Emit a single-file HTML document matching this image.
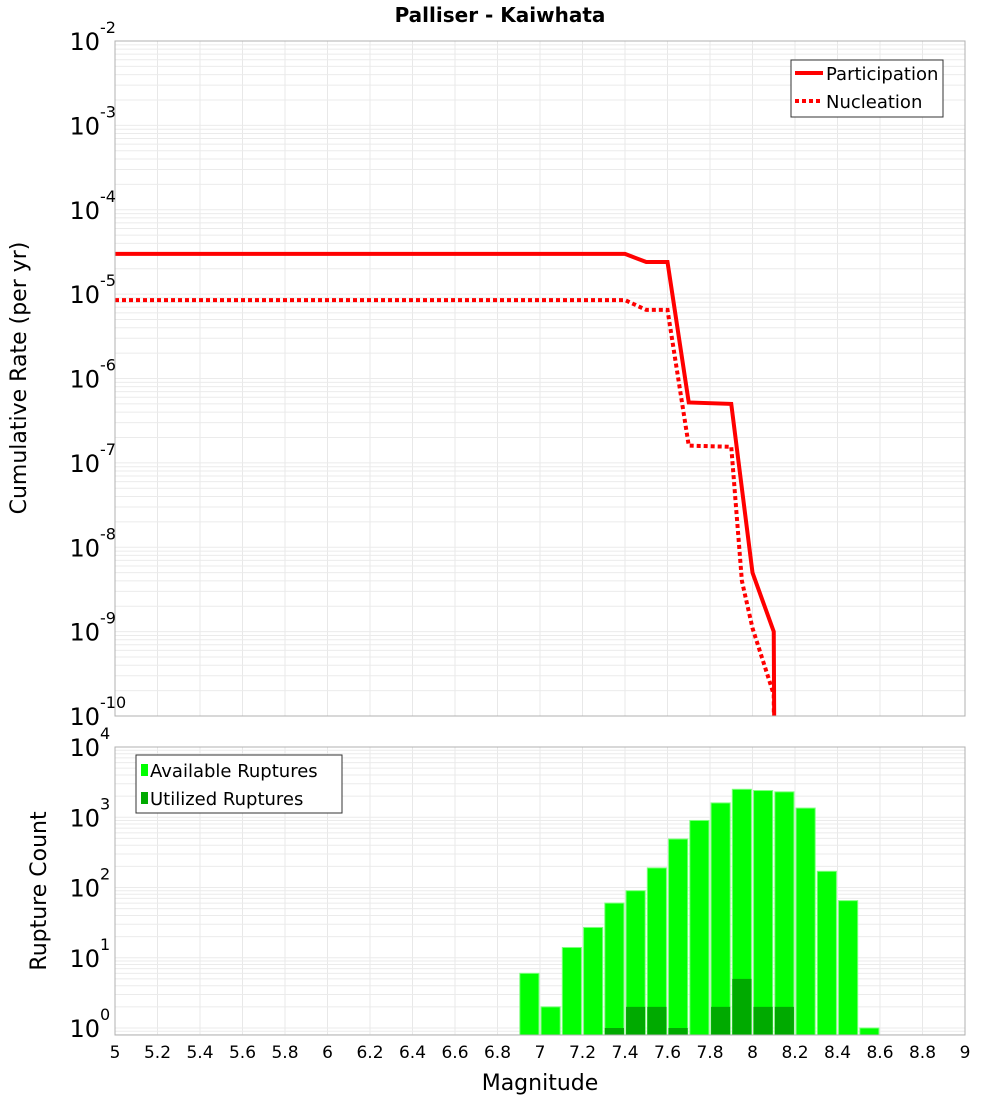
<!DOCTYPE html>
<html><head><meta charset="utf-8"><style>
body{margin:0;background:#fff}
svg{font-family:"DejaVu Sans","Liberation Sans",sans-serif}
</style></head><body>
<svg id="c" width="1000" height="1100" viewBox="0 0 1000 1100" xmlns="http://www.w3.org/2000/svg">
<text x="500" y="22" text-anchor="middle" font-size="20" font-weight="bold">Palliser - Kaiwhata</text>
<g id="grid"></g>
<g id="marks"></g>
<rect x="115" y="41" width="850" height="675" fill="none" stroke="#b0b0b0"/>
<rect x="115" y="747" width="850" height="288" fill="none" stroke="#b0b0b0"/>
<g id="labels"></g>
<text transform="translate(26,378) rotate(-90)" text-anchor="middle" font-size="22">Cumulative Rate (per yr)</text>
<text transform="translate(46,891) rotate(-90)" text-anchor="middle" font-size="22">Rupture Count</text>
<text x="540" y="1090" text-anchor="middle" font-size="22">Magnitude</text>
<g>
<rect x="791" y="60" width="152" height="57" fill="#fff" stroke="#333"/>
<line x1="795" y1="73" x2="823" y2="73" stroke="red" stroke-width="4"/>
<text x="826" y="80" font-size="18">Participation</text>
<line x1="795" y1="101" x2="823" y2="101" stroke="red" stroke-width="4" stroke-dasharray="4,3"/>
<text x="826" y="108" font-size="18">Nucleation</text>
</g>
<g>
<rect x="136" y="755" width="206" height="58" fill="#fff" stroke="#333"/>
<rect x="141" y="764" width="7" height="12" fill="#00ff00"/>
<text x="150" y="777" font-size="18">Available Ruptures</text>
<rect x="141" y="792" width="7" height="12" fill="#00aa00"/>
<text x="150" y="805" font-size="18">Utilized Ruptures</text>
</g>
</svg>
<script>
const partMags=[5,7.4,7.5,7.6,7.7,7.9,8.0,8.1,8.11];
const partRates=[3.0e-5,3.0e-5,2.4e-5,2.4e-5,5.2e-7,5.0e-7,5e-9,1e-9,1e-14];
const nuclMags=[5,7.4,7.5,7.6,7.7,7.9,7.95,8.0,8.1,8.11];
const nuclRates=[8.5e-6,8.5e-6,6.5e-6,6.5e-6,1.6e-7,1.55e-7,4e-9,1.1e-9,1.8e-10,1e-14];
const binMags=[6.95,7.05,7.15,7.25,7.35,7.45,7.55,7.65,7.75,7.85,7.95,8.05,8.15,8.25,8.35,8.45,8.55];
const availCounts=[6,2,14,27,60,90,190,490,900,1600,2500,2400,2300,1350,170,65,1];
const usedCounts=[0,0,0,0,1,2,2,1,0,2,5,2,2,0,0,0,0];
const xTicks=[5,5.2,5.4,5.6,5.8,6,6.2,6.4,6.6,6.8,7,7.2,7.4,7.6,7.8,8,8.2,8.4,8.6,8.8,9];
const topDecades=[-2,-3,-4,-5,-6,-7,-8,-9,-10];
const botDecades=[4,3,2,1,0];
const NS="http://www.w3.org/2000/svg";
const X=m=>115+(m-5)*850/4;
const YT=v=>41+(-2-Math.log10(v))*675/8;
const YB=v=>1028-Math.log10(v)*70.25;
function mk(p,t,a){const e=document.createElementNS(NS,t);for(const k in a)e.setAttribute(k,a[k]);p.appendChild(e);return e;}
const grid=document.getElementById('grid'),marks=document.getElementById('marks'),labels=document.getElementById('labels');
// grids
for(const m of xTicks){
 for(const [y1,y2] of [[41,716],[747,1035]]){const l=mk(grid,'line',{x1:X(m),x2:X(m),y1,y2,stroke:'#e8e8e8'});
 
 }
 const t=mk(labels,'text',{x:X(m),y:1058,'text-anchor':'middle','font-size':17});t.textContent=String(m);
 
 
}
for(let d=-10;d<-2;d++)for(let k=1;k<10;k++){const y=YT(k*Math.pow(10,d));const l=mk(grid,'line',{x1:115,x2:965,y1:y,y2:y,stroke:'#ebebeb'});
 
 }
for(let d=-1;d<4;d++)for(let k=1;k<10;k++){const y=YB(k*Math.pow(10,d));if(y<747||y>1035)continue;const l=mk(grid,'line',{x1:115,x2:965,y1:y,y2:y,stroke:'#ebebeb'});
 
 }
function ylab(y,e,name){const t=mk(labels,'text',{x:100,y:y+9,'text-anchor':'end','font-size':24});
 
 
 t.textContent='10';const s=mk(labels,'text',{x:100,y:y-8,'font-size':16});s.textContent=String(e);}
for(const d of topDecades)ylab(YT(Math.pow(10,d)),d,'top-y-tick-label');
for(const d of botDecades)ylab(YB(Math.pow(10,d)),d,'bottom-y-tick-label');
// bars
const bw=0.09*850/4;
binMags.forEach((m,i)=>{
 const y=YB(availCounts[i]);const r=mk(marks,'rect',{x:X(m)-bw/2,y,width:bw,height:1035-y,fill:'#00ff00',stroke:'#7dff7d','stroke-width':1});
 
 
 if(usedCounts[i]>0){const y2=YB(usedCounts[i]);const u=mk(marks,'rect',{x:X(m)-bw/2,y:y2,width:bw,height:1035-y2,fill:'#00aa00'});
 
 }
});
// lines
const cp=mk(marks,'clipPath',{id:'tc'});mk(cp,'rect',{x:115,y:41,width:850,height:675});
function line(ms,vs,dash,name){const p=mk(marks,'polyline',{points:ms.map((m,i)=>X(m)+','+YT(vs[i])).join(' '),fill:'none',stroke:'red','stroke-width':4,'clip-path':'url(#tc)'});
 if(dash)p.setAttribute('stroke-dasharray','4,3');
 
 }
line(nuclMags,nuclRates,true,'nucleation-line');
line(partMags,partRates,false,'participation-line');
</script>
</body></html>
